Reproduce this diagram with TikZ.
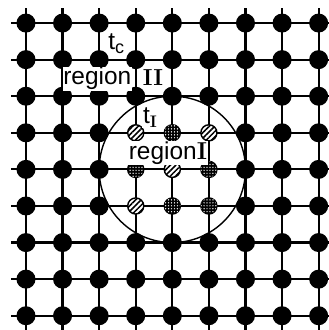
\documentclass[tikz,border=0pt]{standalone}
\usepackage{fontspec}
\newfontfamily\labelfont{Liberation Sans}
\usetikzlibrary{patterns.meta}

\begin{document}
\begin{tikzpicture}[line cap=butt,
    grid/.style={line width=1.7pt},
    site/.style={circle, fill=black, minimum size=0.52cm, inner sep=0pt},
    hatchsite/.style={circle, draw=black, line width=1.1pt, minimum size=0.44cm, inner sep=0pt, fill=white,
      postaction={pattern={Lines[angle=45, distance=3pt, line width=1.2pt]}}},
    speckled/.style={circle, draw=black, line width=1.1pt, minimum size=0.44cm, inner sep=0pt, fill=black,
      postaction={pattern={Dots[radius=0.55pt, distance=2.3pt]}, pattern color=white}},
    tag/.style={fill=white, inner sep=0.5pt, font=\labelfont\fontsize{19}{22}\selectfont},
    numeral/.style={fill=white, inner sep=0.5pt, font=\rmfamily\bfseries\fontsize{18}{20}\selectfont}]
  \useasboundingbox (-0.71,0.63) rectangle (8.26,-8.39);
  % lattice lines
  \foreach \i in {0,...,8} {
    \coordinate (w\i) at (-0.4,-\i);
    \coordinate (e\i) at (8.3,-\i);
    \coordinate (n\i) at (\i,0.4);
    \coordinate (s\i) at (\i,-8.4);
    \draw[grid] (w\i) -- (e\i);
    \draw[grid] (n\i) -- (s\i);
  }
  % region I boundary
  \coordinate (mid) at (4,-4);
  \draw[line width=1.1pt] (mid) circle (2);
  % outer sites
  \foreach \c in {0,...,8}
    \foreach \r in {0,...,8} {
      \pgfmathtruncatemacro\incirc{(\c>2)&&(\c<6)&&(\r>2)&&(\r<6)}
      \ifnum\incirc=0 \node[site] (p\c-\r) at (\c,-\r) {}; \fi
    }
  % inner sites
  \node[hatchsite] (p3-3) at (3,-3) {};
  \node[speckled]  (p4-3) at (4,-3) {};
  \node[hatchsite] (p5-3) at (5,-3) {};
  \node[speckled]  (p3-4) at (3,-4) {};
  \node[hatchsite] (p4-4) at (4,-4) {};
  \node[speckled]  (p5-4) at (5,-4) {};
  \node[hatchsite] (p3-5) at (3,-5) {};
  \node[speckled]  (p4-5) at (4,-5) {};
  \node[speckled]  (p5-5) at (5,-5) {};
  % labels
  \node[tag] (tc) at (2.47,-0.57) {t\raisebox{-0.3ex}{\fontsize{14}{16}\selectfont c}};
  \node[tag] (reg2) at (1.95,-1.52) {region};
  \node[numeral] (num2) at (3.47,-1.50) {II};
  \node[tag] (ti) at (3.39,-2.58) {t\raisebox{-0.35ex}{\rmfamily\bfseries\fontsize{13}{15}\selectfont I}};
  \node[tag] (reg1) at (3.88,-3.55) {region{\rmfamily\bfseries\fontsize{19}{21}\selectfont I}};
\end{tikzpicture}
\end{document}
